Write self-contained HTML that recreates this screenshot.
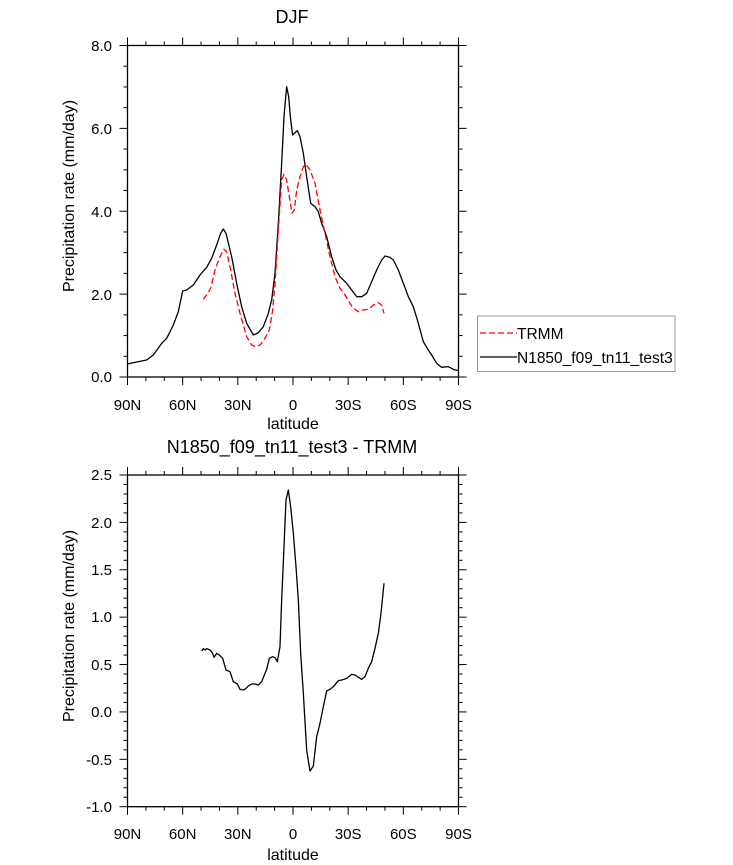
<!DOCTYPE html>
<html><head><meta charset="utf-8"><style>
html,body{margin:0;padding:0;background:#fff;}
svg{display:block;font-family:"Liberation Sans",sans-serif;}
</style></head><body>
<svg id="s" width="733" height="865" viewBox="0 0 733 865" xmlns="http://www.w3.org/2000/svg">
<g id="ticks" stroke="#000" stroke-width="1"></g>
<rect x="127.5" y="45.5" width="331" height="331.5" fill="none" stroke="#000" stroke-width="1.3"/>
<rect x="127.5" y="475" width="331" height="331.7" fill="none" stroke="#000" stroke-width="1.3"/>
<text x="292" y="23" font-size="18" text-anchor="middle">DJF</text>
<text x="292" y="453" font-size="18" text-anchor="middle">N1850_f09_tn11_test3 - TRMM</text>
<g font-size="15" text-anchor="end">
<text x="112" y="51">8.0</text><text x="112" y="134">6.0</text><text x="112" y="217">4.0</text><text x="112" y="300">2.0</text><text x="112" y="382">0.0</text>
<text x="112" y="480">2.5</text><text x="112" y="528">2.0</text><text x="112" y="575">1.5</text><text x="112" y="622">1.0</text><text x="112" y="670">0.5</text><text x="112" y="717">0.0</text><text x="112" y="765">-0.5</text><text x="112" y="812">-1.0</text>
</g>
<g font-size="15" text-anchor="middle">
<text x="127.5" y="410">90N</text><text x="182.7" y="410">60N</text><text x="237.8" y="410">30N</text><text x="293" y="410">0</text><text x="348.2" y="410">30S</text><text x="403.3" y="410">60S</text><text x="458.5" y="410">90S</text>
<text x="127.5" y="839">90N</text><text x="182.7" y="839">60N</text><text x="237.8" y="839">30N</text><text x="293" y="839">0</text><text x="348.2" y="839">30S</text><text x="403.3" y="839">60S</text><text x="458.5" y="839">90S</text>
<text x="293" y="429" font-size="16">latitude</text><text x="293" y="860" font-size="16">latitude</text>
</g>
<g font-size="16" text-anchor="middle">
<text transform="translate(74,196) rotate(-90)">Precipitation rate (mm/day)</text>
<text transform="translate(74,626) rotate(-90)">Precipitation rate (mm/day)</text>
</g>
<g transform="translate(100,30) scale(0.33333)" fill="none" stroke-linejoin="round">
<polyline stroke="#000" stroke-width="1.3" vector-effect="non-scaling-stroke" points="82,1002 110,996 140,990 160,975 185,940 200,925 220,885 235,845 248,783 260,780 280,765 300,735 320,712 335,685 350,645 362,610 370,597 378,610 395,680 410,760 425,830 440,880 460,915 475,908 490,890 505,850 515,810 525,730 535,580 545,400 552,260 560,170 566,200 572,270 578,315 585,308 592,302 600,320 610,370 620,440 632,520 645,530 655,545 665,580 680,620 695,680 708,720 720,740 740,760 755,780 770,800 785,800 800,790 815,755 830,720 845,690 855,678 870,682 880,690 895,720 910,760 925,800 940,830 955,880 970,935 985,960 995,975 1010,1000 1025,1012 1045,1010 1060,1018 1075,1022"/>
<polyline stroke="#f00" stroke-width="1.3" stroke-dasharray="6,3" vector-effect="non-scaling-stroke" points="310,808 320,795 332,775 345,720 360,680 372,658 380,665 392,720 405,790 420,850 440,920 455,945 465,950 480,945 495,925 508,900 518,840 525,760 535,600 545,450 552,433 560,450 568,500 576,550 583,540 590,480 600,440 610,410 618,403 630,420 645,460 660,540 675,610 690,680 705,740 720,775 735,795 750,820 760,835 775,845 790,840 805,838 820,825 835,818 845,825 852,850"/>
</g>
<g transform="translate(100,460) scale(0.33333)" fill="none" stroke-linejoin="round">
<polyline stroke="#000" stroke-width="1.3" vector-effect="non-scaling-stroke" points="305,573 310,566 315,570 320,566 330,570 338,580 342,592 350,580 358,585 368,595 378,630 390,635 400,665 412,672 420,688 430,690 437,686 445,678 455,672 465,672 475,675 485,665 495,640 500,628 508,595 518,590 525,593 532,605 540,560 545,420 552,260 558,120 565,90 572,140 580,220 588,320 595,420 602,580 610,700 620,870 630,933 640,918 650,830 660,790 670,740 680,693 690,688 700,680 715,662 725,660 740,655 755,643 765,645 775,652 785,658 795,650 805,625 815,605 825,565 835,520 843,460 852,370"/>
</g>
<rect x="477.5" y="316" width="197.5" height="55.5" fill="#fff" stroke="#999" stroke-width="1"/>
<line x1="480" y1="333" x2="517" y2="333" stroke="#f00" stroke-width="1.3" stroke-dasharray="6,3"/>
<line x1="480" y1="357" x2="517" y2="357" stroke="#000" stroke-width="1.3"/>
<text x="517" y="339" font-size="15.5">TRMM</text>
<text x="517" y="363" font-size="15.5">N1850_f09_tn11_test3</text>
</svg>
<script>
(function(){
var g=document.getElementById('ticks'),ns='http://www.w3.org/2000/svg';
function L(a,b,c,d){var l=document.createElementNS(ns,'line');l.setAttribute('x1',a);l.setAttribute('y1',b);l.setAttribute('x2',c);l.setAttribute('y2',d);g.appendChild(l);}
var x0=127.5,x1=458.5;
function box(y0,y1,nMinY,majEvery){
 for(var i=0;i<=18;i++){var x=x0+i*(x1-x0)/18,len=(i%3==0)?8:4;L(x,y1,x,y1+len);L(x,y0,x,y0-len);}
 for(var j=0;j<=nMinY;j++){var y=y0+j*(y1-y0)/nMinY,len=(j%majEvery==0)?8:4;L(x0,y,x0-len,y);L(x1,y,x1+len,y);}
}
box(45.5,377,16,4);
box(475,806.7,35,5);
})();
</script>
</body></html>
